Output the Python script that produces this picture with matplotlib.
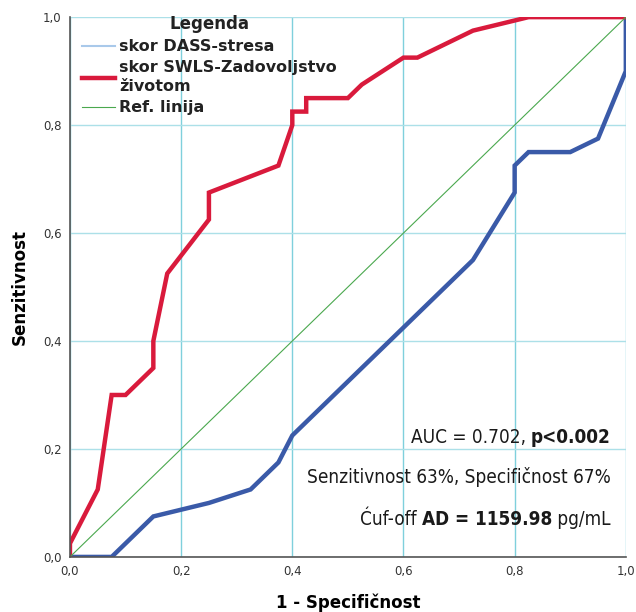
import matplotlib
matplotlib.use("Agg")
from matplotlib import pyplot as plt
from matplotlib.ticker import FuncFormatter
from matplotlib.lines import Line2D

# ROC curve points (1 - specificity, sensitivity)
swls_x = [0.0, 0.0, 0.05, 0.075, 0.1, 0.15, 0.15, 0.175, 0.25, 0.25, 0.375, 0.4, 0.4,
          0.425, 0.425, 0.5, 0.525, 0.6, 0.625, 0.725, 0.825, 1.0]
swls_y = [0.0, 0.025, 0.125, 0.3, 0.3, 0.35, 0.4, 0.525, 0.625, 0.675, 0.725, 0.8, 0.825,
          0.825, 0.85, 0.85, 0.875, 0.925, 0.925, 0.975, 1.0, 1.0]

dass_x = [0.0, 0.075, 0.15, 0.25, 0.325, 0.375, 0.4, 0.725, 0.8, 0.8, 0.825, 0.9, 0.95, 1.0, 1.0]
dass_y = [0.0, 0.0, 0.075, 0.1, 0.125, 0.175, 0.225, 0.55, 0.675, 0.725, 0.75, 0.75, 0.775, 0.9, 1.0]

ref_x = [0.0, 1.0]
ref_y = [0.0, 1.0]

ticks = [0.0, 0.2, 0.4, 0.6, 0.8, 1.0]

fig = plt.figure(figsize=(6.36, 6.12), dpi=100)
ax = fig.add_axes([0.110, 0.090, 0.874, 0.882])

ax.xaxis.grid(True, color="#7fd0dc", linewidth=1.0)
ax.yaxis.grid(True, color="#ace0e8", linewidth=1.0)
ax.set_axisbelow(True)

ax.plot(dass_x, dass_y, color="#3a5aa8", linewidth=3.2, solid_joinstyle="miter")
ax.plot(swls_x, swls_y, color="#d91a3c", linewidth=3.2, solid_joinstyle="miter")
ax.plot(ref_x, ref_y, color="#4aa84e", linewidth=0.8)

ax.set_xlim(0, 1)
ax.set_ylim(0, 1)
ax.set_xticks(ticks)
ax.set_yticks(ticks)
fmt = FuncFormatter(lambda v, p: f"{v:.1f}".replace(".", ","))
ax.xaxis.set_major_formatter(fmt)
ax.yaxis.set_major_formatter(fmt)
ax.tick_params(length=0, labelsize=8.5, labelcolor="#333333", pad=6)
for s in ["top", "right"]:
    ax.spines[s].set_visible(False)
for s in ["left", "bottom"]:
    ax.spines[s].set_color("#555555")
    ax.spines[s].set_linewidth(1.2)

ax.set_ylabel("Senzitivnost", fontsize=12, fontweight="bold", labelpad=10)
ax.set_xlabel("1 - Specifičnost", fontsize=12, fontweight="bold", labelpad=11)

leg_handles = [Line2D([], [], color="#a9c9ea", linewidth=1.5),
               Line2D([], [], color="#d91a3c", linewidth=3.2),
               Line2D([], [], color="#4aa84e", linewidth=0.8)]
leg = ax.legend(leg_handles,
                ["skor DASS-stresa", "skor SWLS-Zadovoljstvo\nživotom", "Ref. linija"],
                loc="upper left", bbox_to_anchor=(-0.005, 1.03), frameon=False,
                title="Legenda", title_fontproperties={"size": 12, "weight": "bold"},
                prop={"size": 11.5, "weight": "bold"}, handlelength=2.1,
                labelspacing=0.38, handletextpad=0.25)
for t in leg.get_texts():
    t.set_color("#222222")
    t.set_linespacing(1.3)
leg.get_title().set_color("#222222")

# annotation block, right aligned, with bold parts
narrow = {"family": "DejaVu Sans", "stretch": "condensed"}
lines = [
    (0.222, [("AUC = 0.702, ", "normal"), ("p<0.002", "bold")]),
    (0.148, [("Senzitivnost 63%, Specifičnost 67%", "normal")]),
    (0.070, [("Ćuf-off ", "normal"), ("AD = 1159.98", "bold"), (" pg/mL", "normal")]),
]
fig.canvas.draw()
renderer = fig.canvas.get_renderer()
for y, parts in lines:
    xpix = ax.transData.transform((0.973, y))[0]
    for text, weight in reversed(parts):
        t = ax.text(0, y, text, fontsize=13.6, fontweight=weight, ha="right", va="center",
                    color="#1a1a1a", **narrow)
        t.set_x(ax.transData.inverted().transform((xpix, 0))[0])
        bb = t.get_window_extent(renderer)
        xpix = bb.x0

fig.savefig("out.png", dpi=100)
